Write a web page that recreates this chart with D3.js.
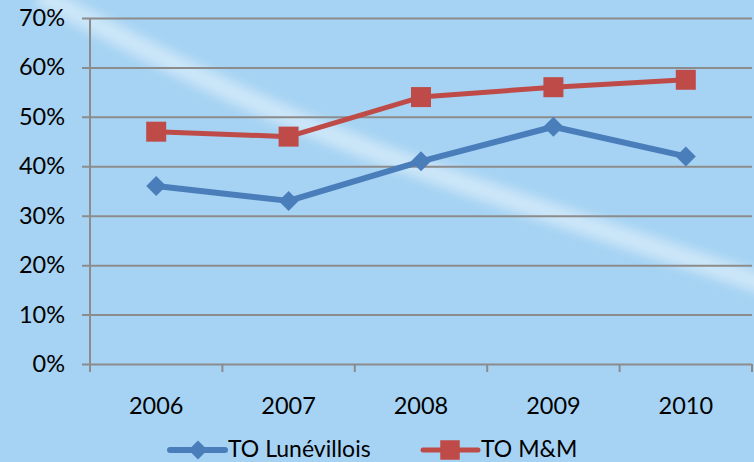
<!DOCTYPE html>
<html><head><meta charset="utf-8">
<script src="https://cdn.jsdelivr.net/npm/d3@7"></script>
<style>
html,body{margin:0;padding:0;background:#a6d3f3;}
svg{display:block;font-family:Lato,"Open Sans",sans-serif;}
</style></head>
<body><svg id="c" width="754" height="462"></svg>
<script>
const years = ["2006","2007","2008","2009","2010"];
const lunevillois = [0.36, 0.33, 0.41, 0.48, 0.42];
const toMM = [0.47, 0.46, 0.54, 0.56, 0.575];
const yTicks = [0, 0.1, 0.2, 0.3, 0.4, 0.5, 0.6, 0.7];
const seriesNames = ["TO Lunévillois", "TO M&M"];

const W = 754, H = 462;
const svg = d3.select("#c");
const m = {left: 90, right: 2, top: 18, bottom: 98};

svg.append("rect").attr("width", W).attr("height", H).attr("fill", "#a6d3f3");

// decorative swoosh
const defs = svg.append("defs");
defs.append("filter").attr("id","blur").append("feGaussianBlur").attr("stdDeviation", 4);
const sw = [[40,-5],[180,68],[300,124],[433,174],[577,222],[770,286]];
svg.append("path").attr("d", d3.line().curve(d3.curveBasis)(sw))
  .attr("fill","none").attr("stroke","#ffffff").attr("stroke-opacity",0.3)
  .attr("stroke-width",24).attr("filter","url(#blur)");
svg.append("path").attr("d", d3.line().curve(d3.curveBasis)(sw))
  .attr("fill","none").attr("stroke","#eef7fd").attr("stroke-opacity",0.3)
  .attr("stroke-width",9).attr("filter","url(#blur)");

const x = d3.scaleBand().domain(years).range([m.left, W - m.right]);
const y = d3.scaleLinear().domain([0, 0.7]).range([H - m.bottom, m.top]);

// gridlines + y labels
const yAxis = d3.axisLeft(y).tickValues(yTicks).tickFormat(d3.format(".0%"))
  .tickSize(-(W - m.right - m.left)).tickPadding(25);
const gy = svg.append("g").attr("transform", `translate(${m.left},0)`).call(yAxis);
gy.select(".domain").remove();
gy.selectAll(".tick line").attr("stroke", "#8c8c8c").attr("stroke-width", 2).attr("x1", -8);
gy.selectAll(".tick text").attr("font-size", 23.5).attr("fill", "#000").attr("font-family","Lato, sans-serif");

// y axis line
svg.append("line").attr("x1", m.left).attr("x2", m.left).attr("y1", y(0.7)).attr("y2", y(0) + 8)
  .attr("stroke", "#8c8c8c").attr("stroke-width", 2);

// x axis ticks at band boundaries
const bounds = years.map(d => x(d)).concat([x(years[years.length-1]) + x.bandwidth()]);
svg.append("g").selectAll("line").data(bounds).join("line")
  .attr("x1", d => d).attr("x2", d => d).attr("y1", y(0)).attr("y2", y(0) + 8)
  .attr("stroke", "#8c8c8c").attr("stroke-width", 2);
svg.append("g").selectAll("text").data(years).join("text")
  .attr("x", d => x(d) + x.bandwidth()/2).attr("y", y(0) + 50)
  .attr("text-anchor", "middle").attr("font-size", 23.5).attr("fill", "#000").text(d => d);

const cx = d => x(d) + x.bandwidth()/2;
const line = d3.line().x((d,i) => cx(years[i])).y(d => y(d));

const blue = "#4a7ebb", red = "#be4b48";

svg.append("path").datum(lunevillois).attr("d", line).attr("fill","none")
  .attr("stroke", blue).attr("stroke-width", 6).attr("stroke-linejoin","round");
svg.append("path").datum(toMM).attr("d", line).attr("fill","none")
  .attr("stroke", red).attr("stroke-width", 5).attr("stroke-linejoin","round");

const diamond = d3.symbol().type(d3.symbolSquare).size(200);
svg.append("g").selectAll("path").data(lunevillois).join("path")
  .attr("d", diamond).attr("fill", blue)
  .attr("transform", (d,i) => `translate(${cx(years[i])},${y(d)}) rotate(45)`);
const square = d3.symbol().type(d3.symbolSquare).size(400);
svg.append("g").selectAll("path").data(toMM).join("path")
  .attr("d", square).attr("fill", red)
  .attr("transform", (d,i) => `translate(${cx(years[i])},${y(d)})`);

// legend
const legY = 450;
const leg = [{name: seriesNames[0], color: blue, x: 170, sym: "d", w: 6},
             {name: seriesNames[1], color: red, x: 423, sym: "s", w: 5}];
leg.forEach(l => {
  const g = svg.append("g");
  g.append("line").attr("x1", l.x).attr("x2", l.x + 55).attr("y1", legY).attr("y2", legY)
    .attr("stroke", l.color).attr("stroke-width", l.w).attr("stroke-linecap","round");
  if (l.sym === "d") {
    g.append("path").attr("d", d3.symbol().type(d3.symbolSquare).size(180)).attr("fill", l.color)
      .attr("transform", `translate(${l.x + 28},${legY}) rotate(45)`);
  } else {
    g.append("path").attr("d", d3.symbol().type(d3.symbolSquare).size(380)).attr("fill", l.color)
      .attr("transform", `translate(${l.x + 27},${legY})`);
  }
  g.append("text").attr("x", l.x + 58).attr("y", legY + 7).attr("font-size", 23)
    .attr("fill", "#000").text(l.name);
});
</script></body></html>
